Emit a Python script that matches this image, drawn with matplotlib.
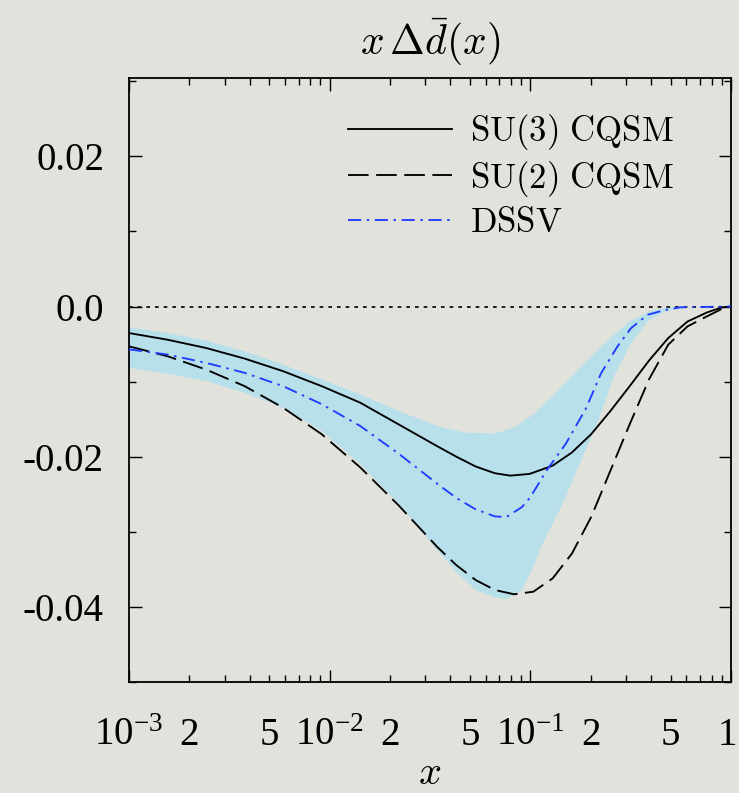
import matplotlib
matplotlib.use("Agg")
import matplotlib.pyplot as plt
from matplotlib.ticker import FixedLocator, NullFormatter
from matplotlib.transforms import ScaledTranslation

# ---------------- data ----------------
x_su3 = [0.001, 0.001556, 0.002421, 0.003767, 0.005861, 0.00912, 0.01419, 0.02208,
         0.03436, 0.0428, 0.05338, 0.06658, 0.07947, 0.09912, 0.1292, 0.1612, 0.2010,
         0.2507, 0.3128, 0.3901, 0.4866, 0.6068, 0.7570, 0.9034, 1.0]
y_su3 = [-0.00353, -0.00442, -0.00552, -0.00693, -0.00861, -0.01060, -0.01280, -0.01570,
         -0.01860, -0.02000, -0.02130, -0.02220, -0.02252, -0.02229, -0.02119, -0.01943,
         -0.01700, -0.01391, -0.01060, -0.00720, -0.00420, -0.00200, -0.00080, -0.00010, 0.0]

x_su2 = [0.001, 0.001556, 0.002421, 0.003767, 0.005861, 0.00912, 0.01419, 0.02208,
         0.03436, 0.0428, 0.05338, 0.06658, 0.08306, 0.1036, 0.1292, 0.1612, 0.2010,
         0.2507, 0.3128, 0.3901, 0.4866, 0.6068, 0.757, 0.9034, 1.0]
y_su2 = [-0.0053, -0.00662, -0.00839, -0.0106, -0.01347, -0.0170, -0.02141, -0.02649,
         -0.03201, -0.03444, -0.03642, -0.03775, -0.03832, -0.03797, -0.0362, -0.03289,
         -0.02803, -0.02185, -0.01567, -0.00971, -0.00508, -0.00265, -0.00132, -0.0003, 0.0]

x_dssv = [0.001, 0.001556, 0.002421, 0.003767, 0.005861, 0.00912, 0.01419, 0.02208,
          0.03436, 0.0428, 0.05338, 0.06658, 0.07603, 0.0908, 0.100, 0.120, 0.150,
          0.190, 0.225, 0.272, 0.317, 0.384, 0.463, 0.56, 1.0]
y_dssv = [-0.0057, -0.0064, -0.0075, -0.00883, -0.0106, -0.0130, -0.01590, -0.01960,
          -0.0236, -0.02550, -0.02700, -0.02795, -0.02803, -0.02671, -0.0254, -0.0219,
          -0.0183, -0.0135, -0.0089, -0.0053, -0.0029, -0.0011, -0.0005, -0.0001, 0.0]

x_band_up = [0.001, 0.001556, 0.002421, 0.003767, 0.005861, 0.00912, 0.01419, 0.02208,
             0.03436, 0.04676, 0.06658, 0.08306, 0.1036, 0.1292, 0.1612, 0.2010, 0.2507,
             0.3128, 0.3901, 0.4866, 1.0]
y_band_up = [-0.00278, -0.00353, -0.00455, -0.00596, -0.00773, -0.00971, -0.0117, -0.01391,
             -0.01589, -0.01678, -0.01691, -0.01611, -0.01435, -0.01192, -0.00927, -0.00662,
             -0.00419, -0.00199, -0.00066, -0.0001, 0.0]

x_band_lo = [0.001, 0.001556, 0.002421, 0.003767, 0.005861, 0.00912, 0.01419, 0.02208,
             0.03436, 0.0428, 0.05338, 0.06658, 0.07603, 0.0908, 0.1036, 0.113, 0.1476,
             0.193, 0.216, 0.261, 0.317, 0.384, 0.463, 0.6, 1.0]
y_band_lo = [-0.00817, -0.00896, -0.00993, -0.01148, -0.01347, -0.01656, -0.02097, -0.02627,
             -0.03245, -0.03532, -0.03775, -0.03876, -0.03894, -0.03775, -0.03466, -0.0320,
             -0.0258, -0.0185, -0.0155, -0.0093, -0.0049, -0.0020, -0.0007, -0.0001, 0.0]

series_labels = [r"$\mathrm{SU(3)\ CQSM}$", r"$\mathrm{SU(2)\ CQSM}$", r"$\mathrm{DSSV}$"]

x_major = [1e-3, 1e-2, 1e-1, 1.0]
x_major_labels = [r"$\mathregular{10^{-3}}$", r"$\mathregular{10^{-2}}$",
                  r"$\mathregular{10^{-1}}$", r"$\mathregular{1}$"]
x_minor_labeled = {2: "2", 5: "5"}

y_major = [-0.04, -0.02, 0.0, 0.02]
y_major_labels = ["-0.04", "-0.02", "0.0", "0.02"]
y_minor = [-0.05, -0.03, -0.01, 0.01, 0.03]

# ---------------- figure ----------------
BG = "#e2e2dc"
W, H = 739, 793
fig = plt.figure(figsize=(W / 100, H / 100), dpi=100, facecolor=BG)
L, R, T, B = 129, 731, 77.5, 682
ax = fig.add_axes([L / W, 1 - B / H, (R - L) / W, (B - T) / H], facecolor=BG)

ax.set_xscale("log")
ax.set_xlim(1e-3, 1.0)
ax.set_ylim(-0.05, 0.0305)

band_x = list(x_band_up) + list(x_band_lo[::-1])
band_y = list(y_band_up) + list(y_band_lo[::-1])
ax.fill(band_x, band_y, color="#b8e0ea", lw=0, zorder=1)

ax.axhline(0.0, color="black", lw=1.2, ls=(0, (2.2, 3.0)), zorder=2)

lw = 1.35
ax.plot(x_su3, y_su3, color="black", lw=lw, zorder=3, label=series_labels[0])
ax.plot(x_su2, y_su2, color="black", lw=lw, dashes=(11, 4.0), zorder=3, label=series_labels[1])
ax.plot(x_dssv, y_dssv, color="#1f3cff", lw=lw, dashes=(7, 3.0, 1.3, 3.0), zorder=3,
        label=series_labels[2])

# ticks
tick_font = dict(family="Liberation Serif", size=28)
ax.xaxis.set_major_locator(FixedLocator(x_major))
ax.set_xticklabels(x_major_labels, fontdict=tick_font)
minor_pos, minor_lab = [], []
for dec in [1e-3, 1e-2, 1e-1]:
    for s in range(2, 10):
        minor_pos.append(s * dec)
        minor_lab.append(x_minor_labeled.get(s, ""))
ax.set_xticks(minor_pos, minor=True)
ax.set_xticklabels(minor_lab, minor=True, fontdict=tick_font)

ax.set_yticks(y_major)
ax.set_yticklabels(y_major_labels, fontdict=tick_font)
ax.set_yticks(y_minor, minor=True)
ax.yaxis.set_minor_formatter(NullFormatter())

ax.tick_params(which="both", direction="in", top=True, right=True, width=1.0, color="black")
ax.tick_params(which="major", length=9)
ax.tick_params(which="minor", length=5)
ax.tick_params(axis="x", which="both", pad=25)
ax.tick_params(axis="y", which="both", pad=18)

for lab in ax.get_xticklabels() + ax.get_xticklabels(minor=True):
    lab.set_math_fontfamily("stix")
last = ax.xaxis.get_major_ticks()[-1].label1
last.set_horizontalalignment("right")
last.set_transform(last.get_transform() + ScaledTranslation(5 / 100, 0, fig.dpi_scale_trans))

for sp in ax.spines.values():
    sp.set_linewidth(1.3)
    sp.set_color("black")

# title and x label
fig.text(430 / W, 1 - 42 / H, r"$x\,\Delta\bar{d}(x)$", ha="center", va="center",
         fontsize=30, math_fontfamily="cm")
fig.text(430 / W, 1 - 773 / H, r"$x$", ha="center", va="center",
         fontsize=29, math_fontfamily="cm")

leg = ax.legend(loc="upper left", bbox_to_anchor=(348 / W, 1 - 112 / H),
                bbox_transform=fig.transFigure, frameon=False, fontsize=25,
                handlelength=3.0, handletextpad=0.52, labelspacing=0.19,
                borderpad=0, borderaxespad=0)
for t in leg.get_texts():
    t.set_math_fontfamily("cm")

fig.savefig("out.png", dpi=100, facecolor=BG)
